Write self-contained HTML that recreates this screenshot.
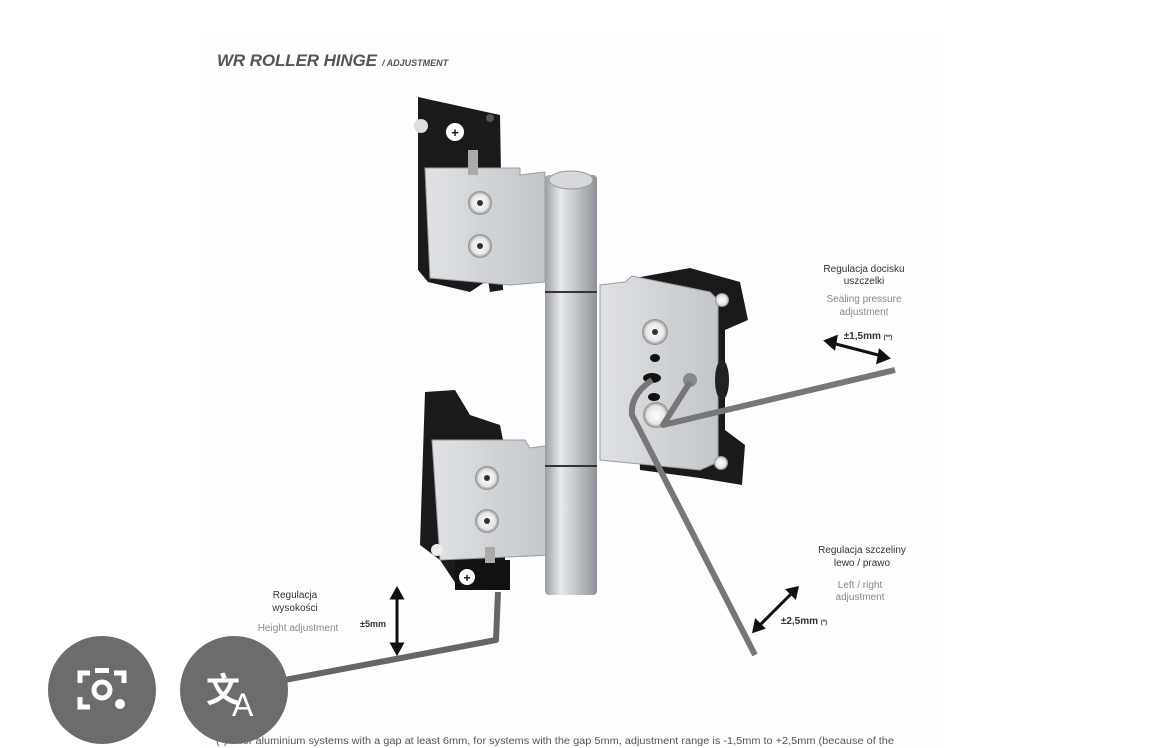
<!DOCTYPE html>
<html><head><meta charset="utf-8"><style>
html,body{margin:0;padding:0;background:#fff;width:1170px;height:748px;overflow:hidden;font-family:"Liberation Sans",sans-serif}
svg{display:block}
</style></head><body>
<svg width="1170" height="748" viewBox="0 0 1170 748" xmlns="http://www.w3.org/2000/svg">
<defs>
<linearGradient id="bar" x1="0" x2="1"><stop offset="0" stop-color="#9a9ea3"/><stop offset="0.3" stop-color="#e8eaec"/><stop offset="0.55" stop-color="#c9ccd0"/><stop offset="1" stop-color="#8e9297"/></linearGradient>
<linearGradient id="pl" x1="0" x2="1"><stop offset="0" stop-color="#dfe1e4"/><stop offset="1" stop-color="#c3c6ca"/></linearGradient>
<radialGradient id="sc"><stop offset="0" stop-color="#fff"/><stop offset="0.7" stop-color="#e6e6e6"/><stop offset="1" stop-color="#888"/></radialGradient>
</defs>
<rect x="200" y="30" width="745" height="718" fill="#fdfdfd"/>
<text x="217" y="66" font-size="17" font-weight="bold" fill="#555" font-style="italic" textLength="160">WR ROLLER HINGE</text>
<text x="382" y="66" font-size="9" fill="#555" font-style="italic" font-weight="bold">/ ADJUSTMENT</text>

<!-- top leaf -->
<path d="M418 97 L500 115 L503 290 L490 292 L488 280 L470 292 L428 282 L418 270 Z" fill="#1a1a1a"/>
<path d="M425 168 L520 168 L520 175 L545 172 L545 282 L510 285 L430 278 Z" fill="url(#pl)" stroke="#9a9da1"/>
<rect x="468" y="150" width="10" height="25" fill="#aaa"/>
<circle cx="421" cy="126" r="7" fill="#ddd"/>
<circle cx="455" cy="132" r="9" fill="#fff"/><text x="455" y="137" font-size="13" text-anchor="middle" fill="#111" font-weight="bold">+</text>
<circle cx="490" cy="118" r="4" fill="#555"/>
<circle cx="480" cy="203" r="12" fill="url(#sc)"/><circle cx="480" cy="203" r="3" fill="#333"/>
<circle cx="480" cy="246" r="12" fill="url(#sc)"/><circle cx="480" cy="246" r="3" fill="#333"/>

<!-- right leaf -->
<path d="M635 278 L690 268 L740 282 L748 320 L725 330 L725 430 L745 445 L742 485 L700 478 L640 470 Z" fill="#1a1a1a"/>
<path d="M600 285 L625 282 L632 276 L710 292 L718 300 L718 462 L700 470 L600 460 Z" fill="url(#pl)" stroke="#9a9da1"/>
<circle cx="722" cy="300" r="7" fill="url(#sc)"/><circle cx="721" cy="463" r="7" fill="url(#sc)"/>
<ellipse cx="722" cy="380" rx="7" ry="20" fill="#222"/>
<circle cx="655" cy="332" r="13" fill="url(#sc)"/><circle cx="655" cy="332" r="3" fill="#333"/>
<circle cx="656" cy="415" r="13" fill="url(#sc)"/>
<ellipse cx="655" cy="358" rx="5" ry="4" fill="#111"/><ellipse cx="652" cy="378" rx="9" ry="5" fill="#111"/><ellipse cx="654" cy="397" rx="6" ry="4" fill="#111"/>
<circle cx="690" cy="380" r="7" fill="#888"/>

<!-- bottom leaf -->
<path d="M425 392 L455 390 L470 415 L500 425 L505 450 L505 560 L510 590 L460 590 L440 560 L420 545 Z" fill="#1a1a1a"/>
<path d="M432 440 L525 440 L530 448 L552 445 L552 555 L440 560 Z" fill="url(#pl)" stroke="#9a9da1"/>
<rect x="455" y="560" width="55" height="30" fill="#111"/>
<circle cx="467" cy="577" r="8" fill="#fff"/><text x="467" y="582" font-size="12" text-anchor="middle" fill="#111" font-weight="bold">+</text>
<rect x="485" y="547" width="10" height="16" fill="#aaa"/>
<circle cx="437" cy="550" r="6" fill="#eee"/>
<circle cx="487" cy="478" r="12" fill="url(#sc)"/><circle cx="487" cy="478" r="3" fill="#333"/>
<circle cx="487" cy="521" r="12" fill="url(#sc)"/><circle cx="487" cy="521" r="3" fill="#333"/>

<!-- barrel -->
<rect x="545" y="175" width="52" height="420" rx="4" fill="url(#bar)"/>
<ellipse cx="571" cy="180" rx="22" ry="9" fill="#d5d7da" stroke="#999"/>
<line x1="545" y1="292" x2="597" y2="292" stroke="#333" stroke-width="2"/>
<line x1="545" y1="466" x2="597" y2="466" stroke="#333" stroke-width="2"/>

<!-- hex keys -->
<path d="M498 592 L496 640 L232 690" fill="none" stroke="#666" stroke-width="6" stroke-linejoin="round"/>
<path d="M652 380 Q630 395 632 415 L755 655" fill="none" stroke="#777" stroke-width="6" stroke-linejoin="round"/>
<path d="M690 382 L663 425 L895 370" fill="none" stroke="#777" stroke-width="6" stroke-linejoin="round"/>

<!-- arrows -->
<g stroke="#111" stroke-width="3" fill="#111">
<line x1="832" y1="343" x2="882" y2="356"/><polygon points="826,341 836,337 834,348"/><polygon points="888,358 878,362 880,351"/>
<line x1="397" y1="595" x2="397" y2="647"/><polygon points="397,589 392,598 402,598"/><polygon points="397,653 392,644 402,644"/>
<line x1="793" y1="592" x2="758" y2="627"/><polygon points="797,588 788,590 795,597"/><polygon points="754,631 756,621 763,628"/>
</g>

<g font-size="10" fill="#333" text-anchor="middle">
<text x="864" y="272">Regulacja docisku</text><text x="864" y="284">uszczelki</text>
<text x="864" y="302" fill="#888">Sealing pressure</text><text x="864" y="315" fill="#888">adjustment</text>
<text x="868" y="339" font-weight="bold">±1,5mm <tspan font-size="6">(**)</tspan></text>
<text x="862" y="553">Regulacja szczeliny</text><text x="862" y="566">lewo / prawo</text>
<text x="860" y="588" fill="#888">Left / right</text><text x="860" y="600" fill="#888">adjustment</text>
<text x="804" y="624" font-weight="bold">±2,5mm <tspan font-size="6">(*)</tspan></text>
<text x="295" y="598">Regulacja</text><text x="295" y="611">wysokości</text>
<text x="298" y="631" fill="#888">Height adjustment</text>
<text x="373" y="627" font-weight="bold" font-size="9">±5mm</text>
</g>
<text x="216" y="744" font-size="10" fill="#555" textLength="678" lengthAdjust="spacingAndGlyphs">(*) – for aluminium systems with a gap at least 6mm, for systems with the gap 5mm, adjustment range is  -1,5mm to +2,5mm (because of the</text>

<!-- buttons -->
<circle cx="102" cy="690" r="54" fill="#6c6c6c"/>
<circle cx="234" cy="690" r="54" fill="#6c6c6c"/>
<g fill="none" stroke="#fff" stroke-width="5">
<path d="M90 673 L80 673 L80 683 M80 697 L80 707 L90 707 M114 673 L124 673 L124 683"/>
<circle cx="102" cy="690" r="8"/>
</g>
<circle cx="120" cy="704" r="5" fill="#fff"/>
<rect x="95" y="668" width="14" height="5" fill="#fff"/>
<text x="206" y="702" font-size="34" font-weight="bold" fill="#fff" font-family="'Noto Sans CJK SC',sans-serif">文</text>
<text x="232" y="716" font-size="32" fill="#fff">A</text>
</svg>
</body></html>
